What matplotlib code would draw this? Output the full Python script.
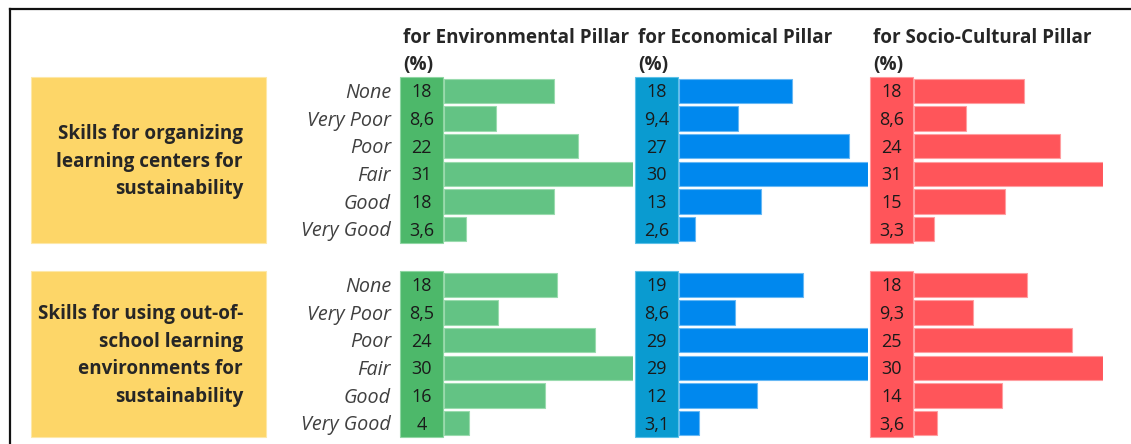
import matplotlib
matplotlib.use("Agg")
import matplotlib.pyplot as plt
from matplotlib.patches import Rectangle
from matplotlib.lines import Line2D

# ---------------- data ----------------
levels = ["None", "Very Poor", "Poor", "Fair", "Good", "Very Good"]
pillars = ["for Environmental Pillar", "for Economical Pillar", "for Socio-Cultural Pillar"]
skills = [["Skills for organizing", "learning centers for", "sustainability"],
          ["Skills for using out-of-", "school learning", "environments for", "sustainability"]]

env_1 = [18, 8.6, 22, 31, 18, 3.6]
eco_1 = [18, 9.4, 27, 30, 13, 2.6]
soc_1 = [18, 8.6, 24, 31, 15, 3.3]
env_2 = [18, 8.5, 24, 30, 16, 4]
eco_2 = [19, 8.6, 29, 29, 12, 3.1]
soc_2 = [18, 9.3, 25, 30, 14, 3.6]

groups = [[env_1, eco_1, soc_1], [env_2, eco_2, soc_2]]

bar_colors = ["#63C384", "#0088EE", "#FF555A"]
box_colors = ["#4DB86A", "#0A9BD0", "#FF555A"]
box_edges = ["#8FD6A2", "#5CC0E8", "#FF9A9D"]
bar_edges = ["#9ADBAE", "#66B8F5", "#FF9EA1"]

# ---------------- layout helpers (pixel based) ----------------
W, H = 1131, 444
fig = plt.figure(figsize=(W / 100, H / 100), dpi=100)
plt.rcParams['font.family'] = ['Open Sans', 'DejaVu Sans']

def fx(x):
    return x / W

def fy(y):
    return 1 - y / H

# frame (top and left lines)
fig.add_artist(Line2D([fx(9.5), fx(1131)], [fy(9.5), fy(9.5)], color="#111111", lw=1.6,
                      transform=fig.transFigure))
fig.add_artist(Line2D([fx(9.5), fx(9.5)], [fy(9.5), fy(444)], color="#111111", lw=1.6,
                      transform=fig.transFigure))

bar_x0 = [444, 679, 914]
box_x0 = [400, 635, 870]
bar_w = 189
group_top = [77, 271]
group_h = 166
row_px = group_h / 6
fs_head = 13.6
fs_skill = 13.6
fs_cat = 14.2
fs_val = 13
line_px = 27.5
base_off = 6.5  # px from visual centre down to baseline

# headers
for c, name in enumerate(pillars):
    fig.text(fx(box_x0[c] + 3), fy(43), name, fontsize=fs_head, fontweight="bold",
             color="#262626", ha="left", va="baseline")
    fig.text(fx(box_x0[c] + 3), fy(70), "(%)", fontsize=fs_head, fontweight="bold",
             color="#262626", ha="left", va="baseline")

for g in range(2):
    top = group_top[g]
    # yellow label box
    fig.add_artist(Rectangle((fx(31), fy(top + group_h)), (266 - 31) / W, group_h / H,
                             transform=fig.transFigure, facecolor="#FDD668",
                             edgecolor="#FDE8A8", lw=0.8))
    lines = skills[g]
    n = len(lines)
    center = top + group_h / 2
    for k, line in enumerate(lines):
        yc = center + (k - (n - 1) / 2) * line_px
        fig.text(fx(243), fy(yc + base_off), line, fontsize=fs_skill,
                 fontweight="bold", color="#262626", ha="right", va="baseline")

    for c in range(3):
        vals = groups[g][c]
        ax = fig.add_axes([fx(bar_x0[c]), fy(top + group_h), bar_w / W, group_h / H])
        ax.barh(range(len(levels)), vals, height=0.87, color=bar_colors[c],
                edgecolor=bar_edges[c], linewidth=0.8)
        ax.set_xlim(0, max(vals))
        ax.set_ylim(len(levels) - 0.5, -0.5)
        ax.axis("off")
        tr = ax.get_yaxis_transform()
        bw = (bar_x0[c] - box_x0[c] - 1) / bar_w
        ax.add_patch(Rectangle((-bw - 1 / bar_w, -0.5), bw, len(levels), transform=tr,
                               facecolor=box_colors[c], edgecolor=box_edges[c], lw=0.8,
                               clip_on=False))
        dy = base_off / row_px
        for i, v in enumerate(vals):
            lab = f"{v:g}".replace(".", ",")
            ax.text(-bw / 2 - 1 / bar_w, i + dy, lab, transform=tr, ha="center",
                    va="baseline", fontsize=fs_val, color="#1A1A1A", clip_on=False)
        if c == 0:
            for i, lev in enumerate(levels):
                ax.text(-(bar_x0[0] - 391) / bar_w, i + dy + 0.03, lev, transform=tr,
                        ha="right", va="baseline", fontsize=fs_cat, style="italic",
                        color="#404040", clip_on=False)

fig.savefig("out.png", dpi=100)
